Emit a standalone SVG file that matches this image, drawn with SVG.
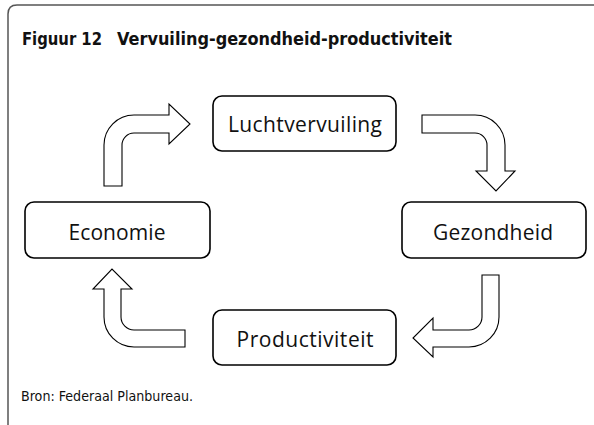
<svg xmlns="http://www.w3.org/2000/svg" width="594" height="425" viewBox="0 0 594 425">
<style>
.frame{fill:none;stroke:#555;stroke-width:1.5}
.node{fill:#fff;stroke:#000;stroke-width:1.6}
.lbl{font-family:"Open Sans","Noto Sans",sans-serif;font-size:21px;fill:#111;text-anchor:middle}
.arrow{fill:#fff;stroke:#000;stroke-width:1.1;stroke-linejoin:miter}
.title{font-family:"DejaVu Sans Condensed","DejaVu Sans",sans-serif;font-weight:bold;font-size:18px;fill:#111}
.src{font-family:"DejaVu Sans Condensed","DejaVu Sans",sans-serif;font-size:14px;fill:#111}
</style>
<rect width="594" height="425" fill="#fff"/>
<path class="frame" d="M8,425 V14 Q8,5 17,5 H594"/>
<text class="title" x="22" y="45" textLength="80" lengthAdjust="spacingAndGlyphs">Figuur 12</text>
<text class="title" x="117" y="45" textLength="335" lengthAdjust="spacingAndGlyphs">Vervuiling-gezondheid-productiviteit</text>
<g id="connectors">
<path class="arrow" d="M104,186 V145 A30,30 0 0 1 134,115 H169 V104 L190,124 L169,144 V133 H134 A12,12 0 0 0 122,145 V186 Z"/>
<path class="arrow" d="M422,115 H475 A30,30 0 0 1 505,145 V171 H515 L496,191 L476,171 H487 V145 A12,12 0 0 0 475,133 H422 Z"/>
<path class="arrow" d="M482,275 H499 V317 A30,30 0 0 1 469,347 H433 V357 L413,338 L433,318 V330 H469 A13,13 0 0 0 482,317 Z"/>
<path class="arrow" d="M185,330 V347 H134 A30,30 0 0 1 104,317 V289 H93 L112,269 L132,289 H121 V317 A13,13 0 0 0 134,330 Z"/>
</g>
<g id="luchtvervuiling">
<rect class="node" x="213" y="96" width="183" height="55" rx="9"/>
<text class="lbl" x="305" y="132" textLength="154">Luchtvervuiling</text>
</g>
<g id="economie">
<rect class="node" x="25" y="202" width="185" height="56" rx="9"/>
<text class="lbl" x="117" y="240" textLength="97">Economie</text>
</g>
<g id="gezondheid">
<rect class="node" x="402" y="202" width="184" height="56" rx="9"/>
<text class="lbl" x="493" y="240" textLength="120">Gezondheid</text>
</g>
<g id="productiviteit">
<rect class="node" x="213" y="310" width="183" height="55" rx="9"/>
<text class="lbl" x="305" y="347" textLength="137">Productiviteit</text>
</g>
<text class="src" x="21" y="401" textLength="172" lengthAdjust="spacingAndGlyphs">Bron: Federaal Planbureau.</text>
</svg>
